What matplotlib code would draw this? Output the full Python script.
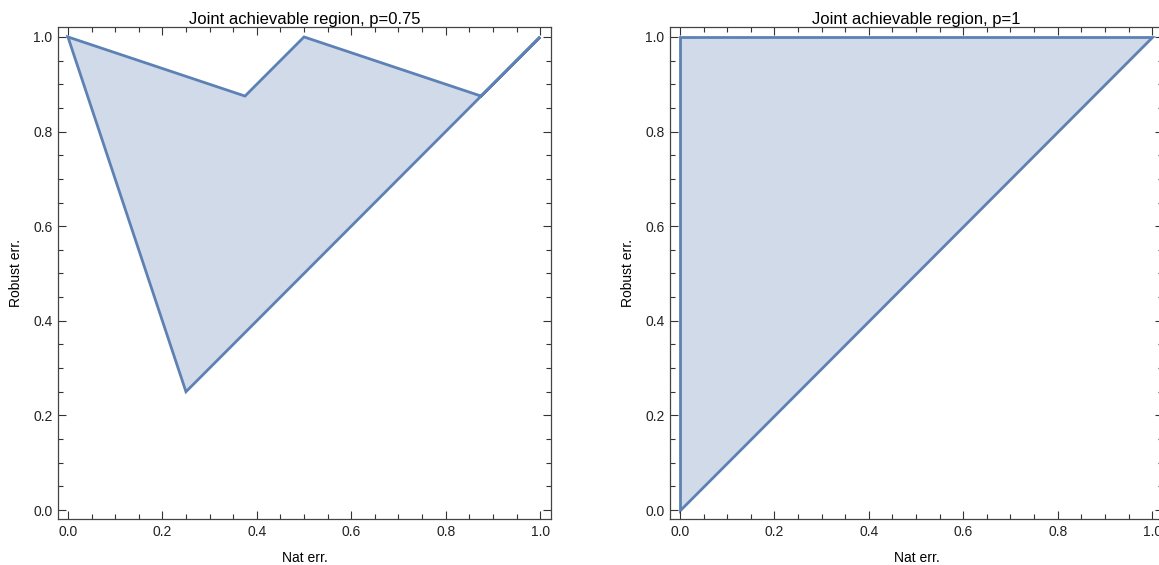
import numpy as np
import matplotlib
matplotlib.use("Agg")
import matplotlib.pyplot as plt
from matplotlib.patches import Polygon
from matplotlib.ticker import MultipleLocator, FormatStrFormatter

plt.rcParams['font.family'] = ['Liberation Sans', 'DejaVu Sans']

# region vertices (nat err., robust err.)
nat_p075 = [0.0, 0.375, 0.5, 0.875, 1.0, 0.25]
rob_p075 = [1.0, 0.875, 1.0, 0.875, 1.0, 0.25]
nat_p1 = [0.0, 0.0, 1.0]
rob_p1 = [0.0, 1.0, 1.0]
titles = ["Joint achievable region, p=0.75", "Joint achievable region, p=1"]

edge = "#5e81b5"
face = "#d0dae9"

fig = plt.figure(figsize=(11.59, 5.65), dpi=100)
ax1 = fig.add_axes([58 / 1159, 1 - 519 / 565, 493 / 1159, 492 / 565])
ax2 = fig.add_axes([670 / 1159, 1 - 519 / 565, 493 / 1159, 492 / 565])

for ax, xs, ys, title in [(ax1, nat_p075, rob_p075, titles[0]),
                          (ax2, nat_p1, rob_p1, titles[1])]:
    pts = np.column_stack([xs, ys])
    ax.add_patch(Polygon(pts, closed=True, facecolor=face, edgecolor=edge,
                         linewidth=2, joinstyle='miter'))
    ax.set_xlim(-0.021, 1.023)
    ax.set_ylim(-0.019, 1.021)
    ax.xaxis.set_major_locator(MultipleLocator(0.2))
    ax.xaxis.set_minor_locator(MultipleLocator(0.05))
    ax.yaxis.set_major_locator(MultipleLocator(0.2))
    ax.yaxis.set_minor_locator(MultipleLocator(0.05))
    ax.xaxis.set_major_formatter(FormatStrFormatter('%.1f'))
    ax.yaxis.set_major_formatter(FormatStrFormatter('%.1f'))
    ax.tick_params(which='both', direction='in', top=True, right=True,
                   labelsize=10, color='#333333', labelcolor='#222222',
                   width=0.8)
    ax.tick_params(which='major', length=6, pad=4)
    ax.tick_params(which='minor', length=3.5)
    for s in ax.spines.values():
        s.set_color('#444444')
        s.set_linewidth(0.9)
    ax.set_title(title, fontsize=12, pad=2)
    ax.set_xlabel("Nat err.", fontsize=10, labelpad=9)
    ax.set_ylabel("Robust err.", fontsize=10, labelpad=7)

fig.savefig("out.png", dpi=100)
